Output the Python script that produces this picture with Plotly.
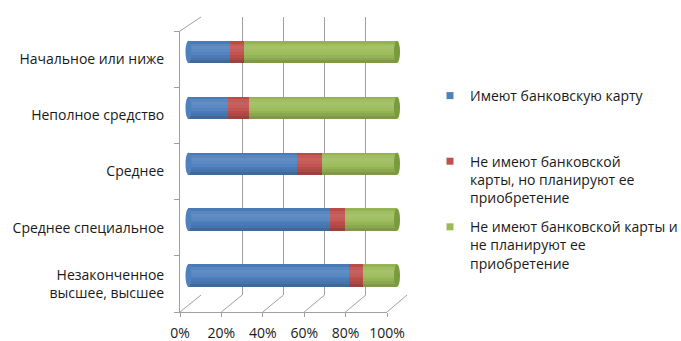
import plotly.graph_objects as go

categories = ["Начальное или ниже", "Неполное средство", "Среднее",
              "Среднее специальное", "Незаконченное<br>высшее, высшее"]
series_names = ["Имеют банковскую карту",
                "Не имеют банковской<br>карты, но планируют ее<br>приобретение",
                "Не имеют банковской карты и<br>не планируют ее<br>приобретение"]
has_card = [20, 19, 52, 68, 77]
plan_card = [7, 10, 12, 7, 7]
no_plan = [73, 71, 36, 25, 16]
x_ticks = [0, 20, 40, 60, 80, 100]

W, H = 681, 341
FONT = "Open Sans, sans-serif"
TXT = "#1a1a1a"
GRID = "#a0a0a0"

base_cols = ["#4F81BD", "#C0504D", "#9BBB59"]
cap_col = "#7A9A3E"

def shade(hexc, f):
    r, g, b = int(hexc[1:3], 16), int(hexc[3:5], 16), int(hexc[5:7], 16)
    if f >= 0:
        r, g, b = [int(c + (255 - c) * f) for c in (r, g, b)]
    else:
        r, g, b = [int(c * (1 + f)) for c in (r, g, b)]
    return f"rgb({r},{g},{b})"

band_f = [-0.04, 0.06, 0.10, 0.07, 0.02, -0.04, -0.10, -0.18]

def px_dom(a, b, total):
    return [a / total, b / total]

def py_dom(top, bottom):
    return [1 - bottom / H, 1 - top / H]

back_x = (201, 407); back_y = (17, 295)
front_x = (180, 387); front_y = (31, 312)
bx0, bx100 = 188.5, 397.0
ppu = (bx100 - bx0) / 100
bar_x = (bx0 - 2 * ppu, bx100 + 2 * ppu)
bar_y = (24, 303.5)

series = [has_card, plan_card, no_plan]
fig = go.Figure()
fig.add_trace(go.Scatter(x=[None], y=[None], xaxis="x", yaxis="y", showlegend=False, hoverinfo="skip"))
fig.add_trace(go.Scatter(x=[None], y=[None], xaxis="x2", yaxis="y2", showlegend=False, hoverinfo="skip"))

starts = [[0] * len(categories)]
for s in series[:-1]:
    starts.append([a + b for a, b in zip(starts[-1], s)])

bw = 0.4 / len(band_f)
for i, s in enumerate(series):
    b = starts[i]
    fig.add_trace(go.Bar(y=categories, x=s, base=b, orientation="h",
                         width=0.4, offset=-0.2, marker=dict(color=base_cols[i], line=dict(width=0)),
                         showlegend=False, xaxis="x3", yaxis="y3", hoverinfo="skip"))
    for j, f in enumerate(band_f):
        fig.add_trace(go.Bar(y=categories, x=s, base=b, orientation="h",
                             width=bw * 1.05, offset=-0.2 + j * bw,
                             marker=dict(color=shade(base_cols[i], f), line=dict(width=0)),
                             showlegend=False, xaxis="x3", yaxis="y3", hoverinfo="skip"))

for i, name in enumerate(series_names):
    nm = name if "<br>" in name else name + "<br> <br> "
    fig.add_trace(go.Scatter(x=[None], y=[None], mode="markers", name=nm,
                             marker=dict(symbol="square", size=7, color=base_cols[i]),
                             legendgroup=str(i), xaxis="x3", yaxis="y3"))

totals = [a + b + c for a, b, c in zip(has_card, plan_card, no_plan)]
hw = 1.45
shapes = []
for k, t in enumerate(totals):
    shapes.append(dict(type="circle", xref="x3", yref="y3", x0=t - hw, x1=t + hw,
                       y0=k - 0.2, y1=k + 0.2, fillcolor=cap_col, line=dict(width=0)))
    shapes.append(dict(type="circle", xref="x3", yref="y3", x0=-hw, x1=hw,
                       y0=k - 0.2, y1=k + 0.2, fillcolor=base_cols[0], line=dict(width=0)))

def fx(t):
    return (front_x[0] + (front_x[1] - front_x[0]) * t / 100) / W
def bxp(t):
    return (back_x[0] + (back_x[1] - back_x[0]) * t / 100) / W
for t in x_ticks:
    shapes.append(dict(type="line", xref="paper", yref="paper", x0=fx(t), y0=1 - front_y[1] / H,
                       x1=bxp(t), y1=1 - back_y[1] / H, line=dict(color=GRID, width=1), layer="below"))
shapes.append(dict(type="line", xref="paper", yref="paper", x0=front_x[0] / W, y0=1 - front_y[0] / H,
                   x1=back_x[0] / W, y1=1 - back_y[0] / H, line=dict(color=GRID, width=1), layer="below"))

fig.update_layout(
    width=W, height=H, margin=dict(l=0, r=0, t=0, b=0, autoexpand=False),
    paper_bgcolor="white", plot_bgcolor="rgba(0,0,0,0)",
    font=dict(family=FONT, size=14, color=TXT),
    barmode="overlay", bargap=0,
    shapes=shapes,
    xaxis=dict(domain=px_dom(*back_x, W), range=[0, 100], tickvals=x_ticks, showgrid=True,
               gridcolor=GRID, gridwidth=1, showticklabels=False, zeroline=False, showline=False,
               anchor="y", fixedrange=True),
    yaxis=dict(domain=py_dom(*back_y), range=[0, 1], showgrid=False, showticklabels=False,
               zeroline=False, showline=False, anchor="x", fixedrange=True),
    xaxis2=dict(domain=px_dom(*front_x, W), range=[0, 100], tickvals=x_ticks,
                ticktext=[f"{t}%" for t in x_ticks], showgrid=False, zeroline=False,
                showline=True, linecolor=GRID, linewidth=1, ticks="outside", ticklen=4,
                ticklabelstandoff=4,
                tickcolor=GRID, anchor="y2", tickfont=dict(size=14, color=TXT), fixedrange=True),
    yaxis2=dict(domain=py_dom(*front_y), range=[len(categories) - 0.5, -0.5],
                tickvals=list(range(len(categories))), ticktext=categories,
                showgrid=False, zeroline=False, showline=True, linecolor=GRID, linewidth=1,
                ticks="", ticklabelstandoff=12,
                minor=dict(tickvals=[k - 0.5 for k in range(len(categories) + 1)], ticks="outside",
                           ticklen=5, tickcolor=GRID, showgrid=False),
                anchor="x2", tickfont=dict(size=14, color=TXT), fixedrange=True),
    xaxis3=dict(domain=px_dom(*bar_x, W), range=[-2, 102], visible=False, anchor="y3", fixedrange=True),
    yaxis3=dict(domain=py_dom(*bar_y), type="category", categoryorder="array",
                categoryarray=categories, range=[len(categories) - 0.5, -0.5], visible=False,
                anchor="x3", fixedrange=True),
    legend=dict(x=430 / W, y=1 - 80 / H, xanchor="left", yanchor="top", valign="top",
                font=dict(size=14, color=TXT), tracegroupgap=8, bgcolor="rgba(0,0,0,0)"),
)

fig.write_html("out.html")
